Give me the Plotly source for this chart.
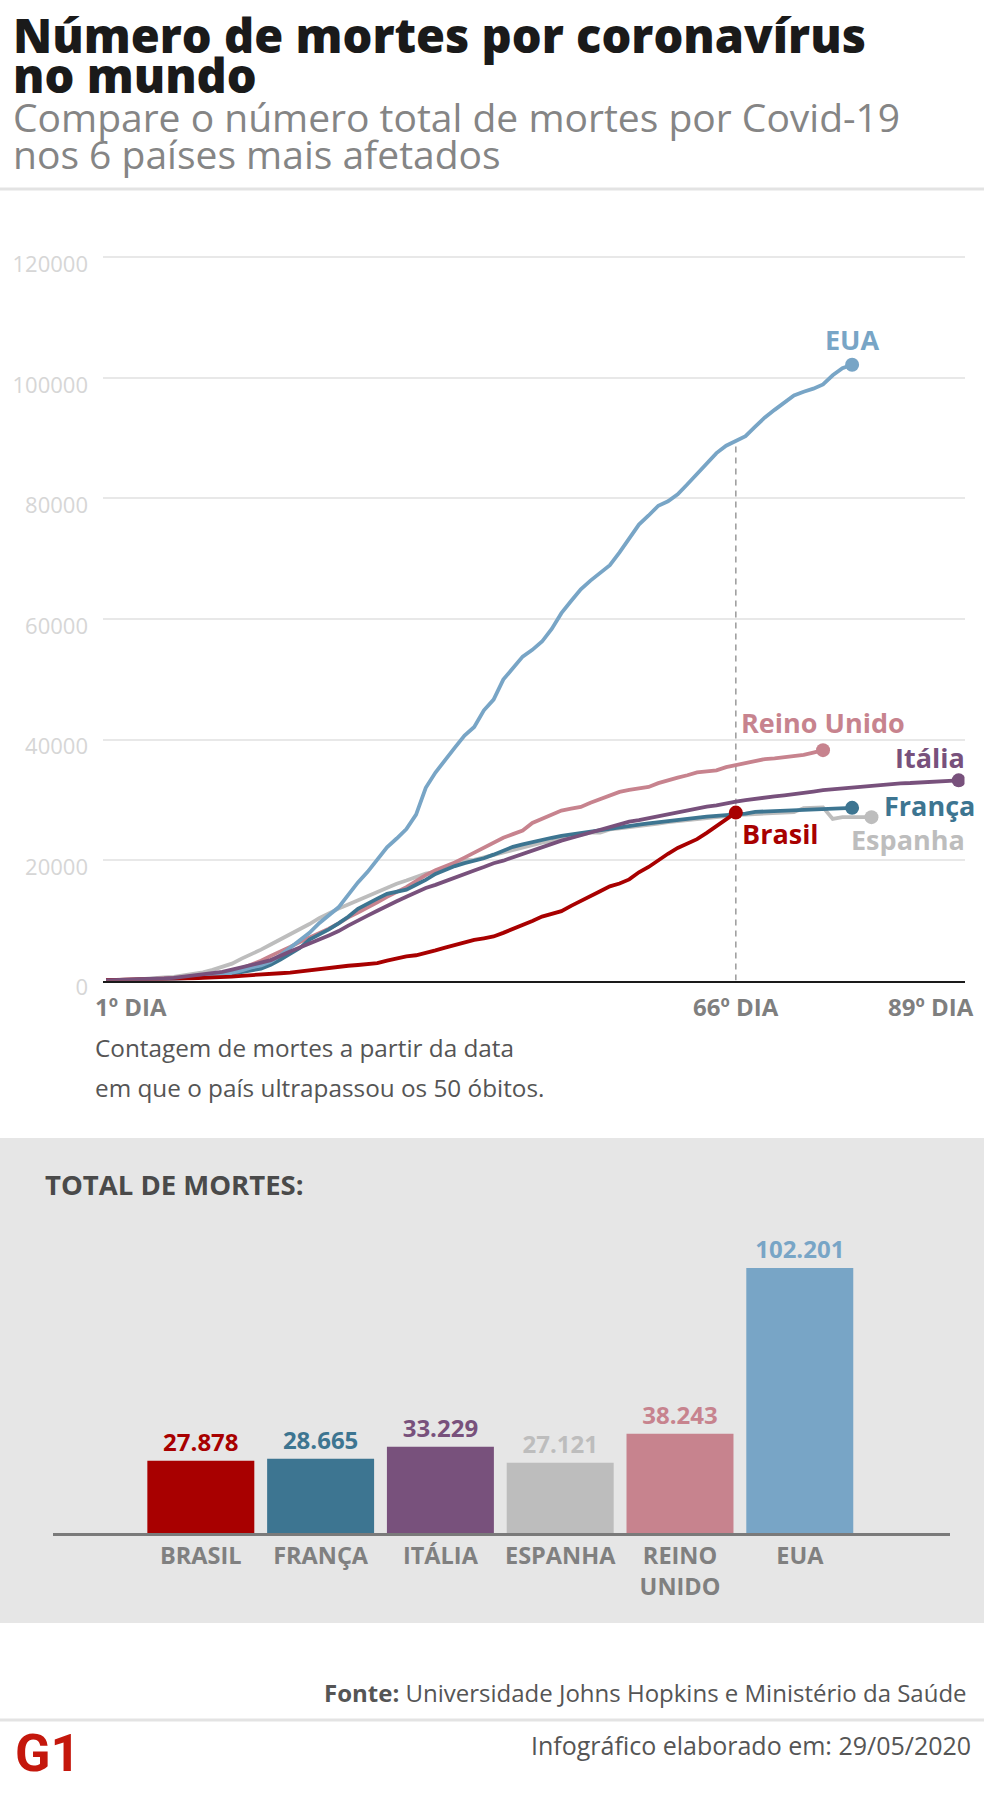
import plotly.graph_objects as go

# ---------------- DATA ----------------
# Cumulative deaths by day since each country passed 50 deaths
brasil = [57, 77, 92, 111, 136, 159, 201, 240, 324, 359, 445, 486, 553, 667, 800, 941, 1056, 1124,
          1223, 1328, 1532, 1736, 1924, 2141, 2354, 2462, 2587, 2741, 2906, 3313, 3670, 4016, 4205,
          4543, 5017, 5466, 5901, 6329, 6750, 7025, 7321, 7921, 8536, 9146, 9897, 10627, 11123, 11519,
          12400, 13149, 13993, 14817, 15633, 16118, 16792, 17971, 18859, 20047, 21048, 22013, 22666,
          23473, 24512, 25598, 26754, 27878]
franca = [50, 61, 79, 91, 127, 148, 175, 264, 372, 450, 562, 674, 860, 1100, 1331, 1696, 1995, 2606,
          3500, 4400, 5400, 6800, 7600, 8500, 9500, 10600, 11900, 12800, 13600, 14400, 14800, 15100,
          15900, 16700, 17700, 18400, 19000, 19500, 19900, 20300, 20900, 21500, 22200, 22600, 23000,
          23400, 23700, 24000, 24250, 24500, 24750, 25000, 25250, 25550, 25700, 25900, 26100, 26300,
          26500, 26700, 26950, 27100, 27200, 27350, 27450, 27550, 27700, 28000, 28050, 28150, 28200,
          28270, 28300, 28380, 28450, 28530, 28600, 28665]
italia = [52, 79, 107, 148, 197, 233, 366, 463, 631, 827, 1016, 1266, 1441, 1809, 2158, 2503, 2978,
          3405, 4032, 4825, 5476, 6077, 6820, 7503, 8215, 9134, 10023, 10779, 11591, 12428, 13155,
          13915, 14681, 15362, 15887, 16523, 17127, 17669, 18279, 18849, 19468, 19899, 20465, 21067,
          21645, 22170, 22745, 23227, 23660, 24114, 24648, 25085, 25549, 25969, 26384, 26644, 26977,
          27359, 27682, 27967, 28236, 28710, 28884, 29079, 29315, 29684, 29958, 30201, 30395, 30560,
          30739, 30911, 31106, 31368, 31610, 31763, 31908, 32007, 32169, 32330, 32486, 32616, 32735,
          32785, 32877, 32955, 33072, 33142, 33229]
espanha = [54, 55, 133, 195, 289, 342, 533, 623, 830, 1043, 1375, 1772, 2311, 2808, 3647, 4365, 5138,
           5982, 6803, 7716, 8464, 9387, 10348, 11198, 11947, 12641, 13341, 14045, 14792, 15447, 16081,
           16606, 17209, 17756, 18056, 18708, 19315, 20002, 20043, 20453, 20852, 21282, 21717, 22157,
           22524, 22902, 23190, 23521, 23822, 24275, 24543, 24543, 25100, 25264, 25428, 25613, 25857,
           26070, 26299, 26478, 26621, 26744, 26920, 27104, 27321, 27459, 27563, 27650, 27709, 27778,
           27888, 27940, 28628, 28678, 28752, 26834, 27117, 27117, 27119, 27121]
reino_unido = [56, 72, 138, 178, 240, 290, 350, 440, 500, 620, 820, 1100, 1350, 1600, 2050, 2650, 3300,
               4100, 4800, 5600, 6400, 7100, 7900, 8600, 9500, 10500, 11300, 12100, 13000, 13900,
               14700, 15500, 16500, 17500, 18300, 18900, 19600, 20400, 21200, 22000, 22900, 23700,
               24300, 24900, 26166, 26842, 27583, 28205, 28520, 28809, 29501, 30150, 30689, 31316,
               31662, 31930, 32141, 32769, 33264, 33692, 34078, 34546, 34716, 34876, 35422, 35786,
               36124, 36475, 36757, 36875, 37048, 37130, 37460, 37837, 38243]
eua = [50, 57, 68, 91, 117, 162, 212, 277, 360, 458, 579, 783, 1027, 1295, 1695, 2191, 2509, 3168,
       4192, 5375, 6544, 7921, 9528, 10826, 12162, 14216, 16286, 18043, 20085, 22102, 23579, 25138,
       27550, 32000, 34522, 36685, 38664, 40661, 42094, 44845, 46622, 49954, 51949, 53755, 54881,
       56259, 58355, 60967, 62996, 64943, 66369, 67682, 68922, 71064, 73455, 75662, 77180, 78795,
       79526, 80682, 82356, 84119, 85898, 87530, 88754, 89562, 90347, 91921, 93439, 94702, 95979,
       97087, 97720, 98223, 98916, 100442, 101617, 102201]

ref_day = 66
y_ticks = [0, 20000, 40000, 60000, 80000, 100000, 120000]

bar_categories = ["BRASIL", "FRANÇA", "ITÁLIA", "ESPANHA", "REINO<br>UNIDO", "EUA"]
bar_totals = [27878, 28665, 33229, 27121, 38243, 102201]

# ---------------- STYLE ----------------
C_BR, C_FR, C_IT, C_ES, C_UK, C_US = "#a80000", "#3d7591", "#78517c", "#bdbdbd", "#c7838e", "#78a5c6"
bar_colors = [C_BR, C_FR, C_IT, C_ES, C_UK, C_US]
FONT = "Open Sans"
W, H = 984, 1794


def px(p):
    return p / W


def py(p):
    return 1 - p / H


fig = go.Figure()

# dashed reference line on day 66
fig.add_trace(go.Scatter(x=[ref_day, ref_day], y=[0, eua[ref_day - 1]], mode="lines",
                         line=dict(color="#9a9a9a", width=1.5, dash="6px,5px"),
                         hoverinfo="skip", showlegend=False))

series = [
    ("Espanha", espanha, C_ES),
    ("Reino Unido", reino_unido, C_UK),
    ("França", franca, C_FR),
    ("EUA", eua, C_US),
    ("Brasil", brasil, C_BR),
    ("Itália", italia, C_IT),
]
for name, vals, col in series:
    fig.add_trace(go.Scatter(x=list(range(1, len(vals) + 1)), y=vals, mode="lines", name=name,
                             line=dict(color=col, width=3.8), showlegend=False))
for name, vals, col in [series[0], series[1], series[5], series[2], series[3], series[4]]:
    fig.add_trace(go.Scatter(x=[len(vals)], y=[vals[-1]], mode="markers",
                             marker=dict(color=col, size=14), showlegend=False, hoverinfo="skip"))

# bars
fig.add_trace(go.Bar(x=list(range(len(bar_totals))), y=bar_totals, width=0.893,
                     marker=dict(color=bar_colors, line=dict(width=0)),
                     texttemplate="%{y:,}", textposition="outside", cliponaxis=False,
                     textfont=dict(family=FONT, size=24, color=bar_colors, weight="bold"),
                     xaxis="x2", yaxis="y2", showlegend=False))

annotations = []


def ann(text, x, y, size, color, xanchor="left", yanchor="middle", xref="paper", yref="paper",
        xshift=0, yshift=0, weight="normal", family=FONT):
    annotations.append(dict(text=text, x=x, y=y, xref=xref, yref=yref, xanchor=xanchor,
                            yanchor=yanchor, xshift=xshift, yshift=yshift, showarrow=False,
                            font=dict(family=family, size=size, color=color, weight=weight)))


# titles
ann("Número de mortes por coronavírus", px(11), py(34.8), 47, "#1a1a1a", weight=800)
ann("no mundo", px(11), py(74.8), 47, "#1a1a1a", weight=800)
ann("Compare o número total de mortes por Covid-19", px(11), py(116), 39, "#858585")
ann("nos 6 países mais afetados", px(11), py(154), 39, "#858585")

# x labels of line chart
ann("1º DIA", 1, 0, 24, "#7f7f7f", xanchor="left", xref="x", yref="y", xshift=-13, yshift=-26, weight="bold")
ann("66º DIA", ref_day, 0, 24, "#7f7f7f", xanchor="center", xref="x", yref="y", yshift=-26, weight="bold")
ann("89º DIA", len(italia), 0, 24, "#7f7f7f", xanchor="right", xref="x", yref="y", xshift=17, yshift=-26, weight="bold")

# caption
ann("Contagem de mortes a partir da data", px(93), py(1047), 24.3, "#555555")
ann("em que o país ultrapassou os 50 óbitos.", px(93), py(1087), 24.3, "#555555")

# series labels
ann("EUA", len(eua), eua[-1], 27, C_US, xanchor="center", xref="x", yref="y", yshift=25, weight="bold")
ann("Reino Unido", len(reino_unido), reino_unido[-1], 27, C_UK, xanchor="center", xref="x", yref="y", yshift=28, weight="bold")
ann("Itália", len(italia), italia[-1], 27, C_IT, xanchor="right", xref="x", yref="y", xshift=8, yshift=23, weight="bold")
ann("França", len(franca), franca[-1], 27, C_FR, xanchor="left", xref="x", yref="y", xshift=30, yshift=2, weight="bold")
ann("Brasil", len(brasil), brasil[-1], 27, C_BR, xanchor="left", xref="x", yref="y", xshift=4, yshift=-21, weight="bold")
ann("Espanha", len(espanha), espanha[-1], 27, C_ES, xanchor="left", xref="x", yref="y", xshift=-22, yshift=-22, weight="bold")

# bar section heading
ann("TOTAL DE MORTES:", px(43), py(1184), 27.5, "#4a4a4a", weight="bold")

# footer
ann("<b>Fonte:</b> Universidade Johns Hopkins e Ministério da Saúde", px(969), py(1692), 24, "#555555", xanchor="right")
ann("Infográfico elaborado em: 29/05/2020", px(973), py(1745), 25, "#555555", xanchor="right")
ann("<b>G1</b>", px(47), py(1753), 52, "#c4170c", xanchor="center", weight=900, family="Roboto")

shapes = [
    dict(type="rect", xref="paper", yref="paper", x0=0, x1=1, y0=py(1623), y1=py(1138),
         fillcolor="#e6e6e6", line=dict(width=0), layer="below"),
    dict(type="line", xref="paper", yref="paper", x0=0, x1=1, y0=py(189), y1=py(189),
         line=dict(color="#e3e3e3", width=3)),
    dict(type="line", xref="paper", yref="paper", x0=0, x1=1, y0=py(1720), y1=py(1720),
         line=dict(color="#e3e3e3", width=3)),
]

fig.update_layout(
    width=W, height=H, margin=dict(l=0, r=0, t=0, b=0, autoexpand=False),
    paper_bgcolor="white", plot_bgcolor="rgba(0,0,0,0)",
    separators=",.",
    font=dict(family=FONT),
    showlegend=False,
    annotations=annotations, shapes=shapes,
    xaxis=dict(domain=[px(103), px(964.5)], range=[0.69, 89.6], showgrid=False, zeroline=False,
               showline=True, linecolor="#1a1a1a", linewidth=2, showticklabels=False, ticks="",
               fixedrange=True, anchor="y", automargin=False),
    yaxis=dict(domain=[py(980.6), py(250)], range=[0, 121230], tickvals=y_ticks,
               ticktext=[str(v) for v in y_ticks], showgrid=True, gridcolor="#e8e8e8", gridwidth=1.5,
               zeroline=False, showline=False, ticks="", ticklabelstandoff=14, ticklabelshift=7,
               tickfont=dict(family=FONT, size=22, color="#d6d6d6"), fixedrange=True, anchor="x",
               automargin=False),
    xaxis2=dict(domain=[px(53), px(950)], range=[-1.234, 6.254], anchor="y2",
                tickvals=list(range(len(bar_categories))), ticktext=bar_categories,
                showline=True, linecolor="#7a7a7a", linewidth=3, showgrid=False, zeroline=False,
                ticks="", tickfont=dict(family=FONT, size=23.5, color="#808080", weight="bold"),
                fixedrange=True, automargin=False),
    yaxis2=dict(domain=[py(1533), py(1250)], range=[0, 109143], visible=False, anchor="x2",
                fixedrange=True, automargin=False),
)

fig.write_html("out.html", config={"displayModeBar": False},
               post_script="document.body.style.margin='0px';document.body.style.overflow='hidden';")
